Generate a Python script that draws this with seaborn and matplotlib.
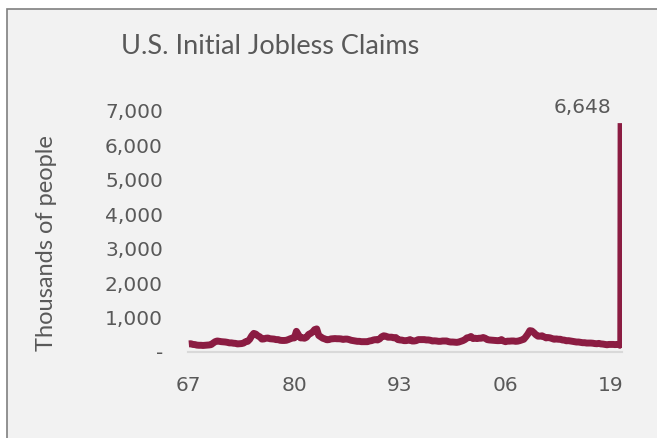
import numpy as np
import pandas as pd
import seaborn as sns
import matplotlib.pyplot as plt
from matplotlib.patches import Rectangle

# === Data: initial jobless claims, thousands (quarterly 1967-2019, weekly early 2020) ===
quarter_years = np.arange(1967, 2020)
quarterly_claims = [
    235, 240, 220, 215,   # 1967
    200, 195, 195, 190,   # 1968
    195, 200, 205, 215,   # 1969
    260, 300, 320, 310,   # 1970
    300, 295, 290, 280,   # 1971
    265, 265, 255, 250,   # 1972
    235, 240, 245, 260,   # 1973
    300, 310, 370, 470,   # 1974
    540, 520, 470, 440,   # 1975
    375, 380, 400, 405,   # 1976
    385, 380, 375, 360,   # 1977
    360, 340, 335, 335,   # 1978
    340, 360, 385, 405,   # 1979
    410, 600, 500, 410,   # 1980
    410, 400, 430, 510,   # 1981
    540, 580, 650, 670,   # 1982
    480, 440, 400, 380,   # 1983
    355, 360, 380, 385,   # 1984
    390, 385, 385, 380,   # 1985
    365, 375, 375, 360,   # 1986
    340, 330, 320, 310,   # 1987
    310, 300, 300, 300,   # 1988
    300, 320, 330, 350,   # 1989
    360, 350, 380, 440,   # 1990
    470, 460, 430, 430,   # 1991
    430, 410, 420, 360,   # 1992
    350, 345, 330, 330,   # 1993
    340, 360, 320, 320,   # 1994
    330, 360, 360, 360,   # 1995
    360, 350, 350, 340,   # 1996
    320, 325, 320, 310,   # 1997
    310, 320, 320, 320,   # 1998
    300, 290, 290, 285,   # 1999
    280, 290, 310, 330,   # 2000
    360, 410, 420, 450,   # 2001
    390, 400, 390, 400,   # 2002
    400, 420, 400, 360,   # 2003
    350, 345, 340, 335,   # 2004
    330, 330, 360, 320,   # 2005
    300, 315, 315, 320,   # 2006
    320, 310, 315, 330,   # 2007
    350, 370, 440, 520,   # 2008
    620, 610, 560, 500,   # 2009
    460, 460, 470, 440,   # 2010
    410, 420, 410, 390,   # 2011
    370, 380, 370, 370,   # 2012
    350, 345, 325, 330,   # 2013
    320, 310, 300, 290,   # 2014
    290, 280, 270, 270,   # 2015
    260, 260, 260, 255,   # 2016
    245, 240, 250, 235,   # 2017
    230, 220, 210, 220,   # 2018
    220, 220, 215, 220,   # 2019
]
weeks_2020 = ["2020-01-04", "2020-01-11", "2020-01-18", "2020-01-25", "2020-02-01",
              "2020-02-08", "2020-02-15", "2020-02-22", "2020-02-29", "2020-03-07",
              "2020-03-14", "2020-03-21", "2020-03-28"]
weekly_claims_2020 = [214, 207, 223, 216, 202, 205, 215, 219, 217, 211, 282, 3307, 6648]

x_ticks = [1967, 1980, 1993, 2006, 2019]
x_tick_labels = ["67", "80", "93", "06", "19"]
y_ticks = [0, 1000, 2000, 3000, 4000, 5000, 6000, 7000]

# === Build one frame with decimal-year x ===
q_x = np.repeat(quarter_years, 4) + np.tile([0.0, 0.25, 0.5, 0.75], len(quarter_years))
w_dates = pd.to_datetime(weeks_2020)
w_x = 2020 + (w_dates.dayofyear - 1) / 366
df = pd.DataFrame({
    "year": np.concatenate([q_x, w_x]),
    "claims": quarterly_claims + weekly_claims_2020,
})

# === Plot ===
sns.set_style("white")
plt.rcParams["font.family"] = ["Lato", "DejaVu Sans"]
tick_font = ["DejaVu Sans"]
text_color = "#595959"
line_color = "#8b1c42"

fig = plt.figure(figsize=(6.57, 4.38), dpi=100)
fig.patch.set_facecolor("white")
fig.patches.append(Rectangle((7 / 657, -0.1), 1.2, 1.1 - 9 / 438, transform=fig.transFigure,
                             facecolor="#f2f2f2", edgecolor="#7f7f7f", linewidth=1.2, zorder=-5))

ax = fig.add_axes([188 / 657, 1 - 352 / 438, (622 - 188) / 657, (352 - 111) / 438])
ax.set_facecolor("none")
ax.set_zorder(2)
sns.lineplot(data=df, x="year", y="claims", color=line_color, linewidth=5, ax=ax,
             solid_capstyle="butt", solid_joinstyle="round")

ax.set_xlim(1966.9, 2020.35)
ax.set_ylim(0, 7000)
for s in ["top", "right", "left"]:
    ax.spines[s].set_visible(False)
ax.spines["bottom"].set_color("#d9d9d9")
ax.spines["bottom"].set_linewidth(1.5)

ax.set_xticks(x_ticks)
ax.set_xticklabels(x_tick_labels, family=tick_font)
ax.set_yticks(y_ticks)
ax.set_yticklabels(["-" if v == 0 else f"{v:,}" for v in y_ticks], family=tick_font)
ax.tick_params(axis="x", length=6, width=1.5, color="#d9d9d9", pad=11,
               labelsize=14.5, labelcolor=text_color)
ax.tick_params(axis="y", length=0, pad=18, labelsize=14.5, labelcolor=text_color)
ax.set_xlabel("")
ax.set_ylabel("")

fig.text(47 / 657, 1 - 243 / 438, "Thousands of people", rotation=90, ha="center", va="center",
         fontsize=17, color=text_color)
fig.text(270 / 657, 1 - 47 / 438, "U.S. Initial Jobless Claims", ha="center", va="center",
         fontsize=19.5, color=text_color)

ax.annotate("6,648", xy=(w_x[-1], weekly_claims_2020[-1]), xytext=(-28, 11),
            textcoords="offset points", ha="center", va="center", fontsize=14.5,
            family=tick_font, color=text_color)

fig.savefig("out.png", dpi=100, facecolor=fig.get_facecolor())
